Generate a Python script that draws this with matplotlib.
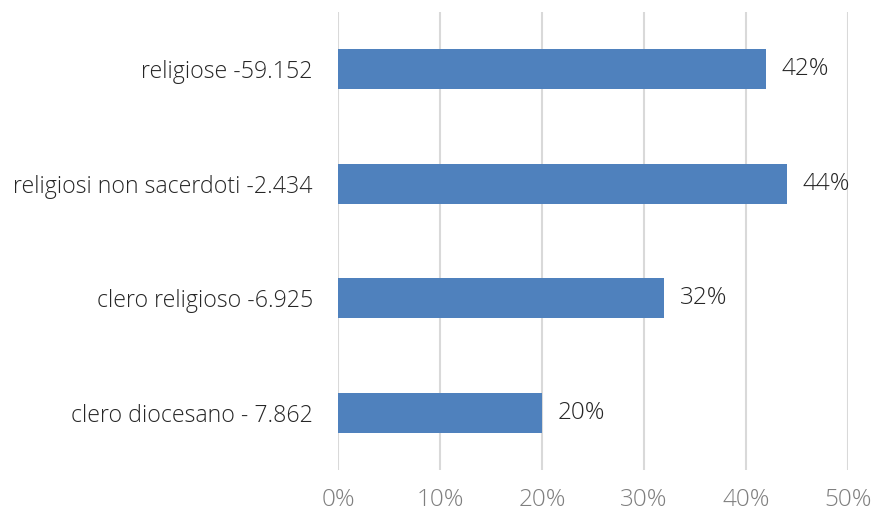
import matplotlib.pyplot as plt
from matplotlib.ticker import FuncFormatter

# categories top to bottom, share of each group (percent)
categories = ["religiose -59.152", "religiosi non sacerdoti -2.434",
              "clero religioso -6.925", "clero diocesano - 7.862"]
shares = [42, 44, 32, 20]
x_ticks = [0, 10, 20, 30, 40, 50]

plt.rcParams['font.family'] = ['Open Sans', 'DejaVu Sans']

fig = plt.figure(figsize=(8.72, 5.11), dpi=100)
ax = fig.add_axes([0.3876, 0.0802, 0.5849, 0.8963])

pos = list(range(len(categories)))[::-1]
bars = ax.barh(pos, shares, height=0.35, color='#4F81BD', zorder=3)

for b, v in zip(bars, shares):
    ax.annotate(f"{v}%", (b.get_width(), b.get_y() + b.get_height() / 2),
                xytext=(11, 0), textcoords='offset points', va='center', ha='left',
                fontsize=17.5, fontweight='light', color='#262626')

ax.set_xlim(0, 50)
ax.set_ylim(-0.5, 3.5)
ax.set_xticks(x_ticks)
ax.xaxis.set_major_formatter(FuncFormatter(lambda v, p: f"{v:.0f}%"))
ax.set_yticks(pos)
ax.set_yticklabels(categories)

ax.grid(axis='x', color='#D9D9D9', linewidth=1.5, zorder=0)
for s in ax.spines.values():
    s.set_visible(False)
ax.tick_params(axis='both', length=0)
ax.tick_params(axis='y', pad=18, labelsize=16.7, labelcolor='#262626')
ax.tick_params(axis='x', pad=13, labelsize=17.5, labelcolor='#7F7F7F')
for t in ax.get_xticklabels() + ax.get_yticklabels():
    t.set_fontweight('light')

fig.savefig('out.png', dpi=100)
